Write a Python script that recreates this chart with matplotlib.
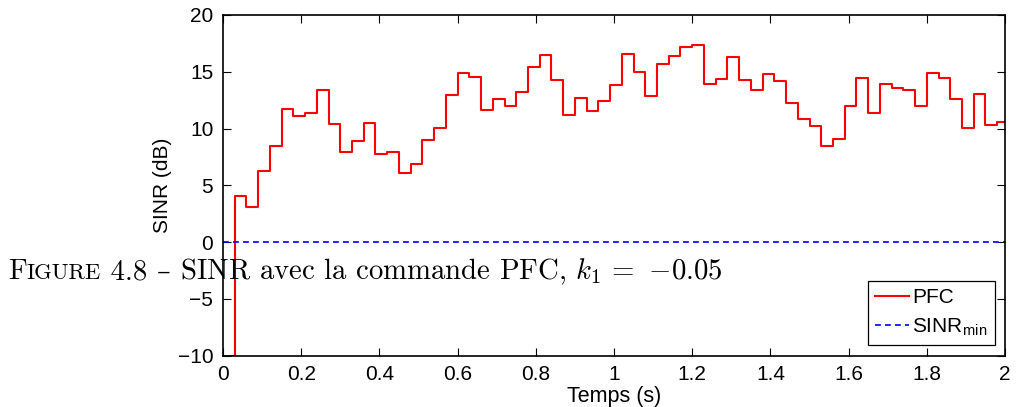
import numpy as np
import matplotlib
matplotlib.use("Agg")
import matplotlib.pyplot as plt
from matplotlib.offsetbox import TextArea, HPacker, AnchoredOffsetbox

# Data (step every 0.03 s)
dt = 0.03
sinr_pfc = [-10.0, 4.05, 3.08, 6.22, 8.5, 11.76, 11.06, 11.35, 13.43, 10.38,
            7.92, 8.92, 10.5, 7.77, 7.92, 6.07, 6.83, 8.97, 10.06, 12.96,
            14.9, 14.55, 11.67, 12.64, 12.0, 13.23, 15.43, 16.48, 14.28, 11.17,
            12.73, 11.58, 12.4, 13.84, 16.54, 14.99, 12.9, 15.72, 16.39, 17.18,
            17.33, 13.9, 14.37, 16.27, 14.25, 13.43, 14.84, 14.19, 12.26, 10.85,
            10.18, 8.48, 9.09, 12.0, 14.43, 11.38, 13.9, 13.6, 13.4, 12.02,
            14.93, 14.43, 12.61, 10.03, 13.08, 10.33, 10.59]
sinr_min = 0.0
xlim = [0, 2]
ylim = [-10, 20]
xticks = [0, 0.2, 0.4, 0.6, 0.8, 1, 1.2, 1.4, 1.6, 1.8, 2]
xticklabels = ["0", "0.2", "0.4", "0.6", "0.8", "1", "1.2", "1.4", "1.6", "1.8", "2"]
yticks = [-10, -5, 0, 5, 10, 15, 20]
yticklabels = ["\u221210", "\u22125", "0", "5", "10", "15", "20"]

t = np.arange(len(sinr_pfc)) * dt
t = np.append(t, xlim[1])
v = np.append(sinr_pfc, sinr_pfc[-1])

plt.rcParams['font.family'] = ['Liberation Sans', 'DejaVu Sans']
plt.rcParams['mathtext.fontset'] = 'cm'
fig = plt.figure(figsize=(10.24, 4.07), dpi=100)
ax = fig.add_axes([223/1024, 1 - 355.5/407, (1005-223)/1024, (355.5-15)/407])

ax.step(t, v, where='post', color='red', lw=1.5, label='PFC')
ax.plot(xlim, [sinr_min, sinr_min], color='blue', lw=1.2, ls=(0, (3.5, 2.5)),
        label='SINR$_{\\mathregular{min}}$')

ax.set_xlim(xlim)
ax.set_ylim(ylim)
ax.set_xticks(xticks)
ax.set_xticklabels(xticklabels)
ax.set_yticks(yticks)
ax.set_yticklabels(yticklabels)
ax.tick_params(direction='in', top=True, right=True, labelsize=15, length=6, width=0.8,
               pad=7)
for s in ax.spines.values():
    s.set_linewidth(1.2)
ax.set_xlabel('Temps (s)', fontsize=15.5, labelpad=1)
ax.set_ylabel('SINR (dB)', fontsize=15, labelpad=4)

leg = ax.legend(loc='lower right', fontsize=15, handlelength=1.6, handletextpad=0.15,
                borderpad=0.35, labelspacing=0.45, fancybox=False, framealpha=1,
                edgecolor='black', borderaxespad=0.5)
leg.get_frame().set_linewidth(0.9)

# Caption with small caps emulation
cap_font = ['cmr10', 'DejaVu Serif']
fs = 20.7
ta1 = TextArea("F", textprops=dict(fontsize=fs, family=cap_font))
ta2 = TextArea("IGURE", textprops=dict(fontsize=fs * 0.78, family=cap_font))
ta2a = TextArea(" 4.8 ", textprops=dict(fontsize=fs, family=cap_font))
ta2b = TextArea("\u2013", textprops=dict(fontsize=fs * 0.95, family=['DejaVu Serif']))
ta3 = TextArea(" SINR avec la commande PFC, $k_1\\,=$ $-0.05$",
               textprops=dict(fontsize=fs, family=cap_font))
box = HPacker(children=[ta1, ta2, ta2a, ta2b, ta3], align="baseline", pad=0, sep=0)
anch = AnchoredOffsetbox(loc='lower left', child=box, pad=0, frameon=False,
                         bbox_to_anchor=(8/1024, 1 - 287/407),
                         bbox_transform=fig.transFigure, borderpad=0)
fig.add_artist(anch)

fig.savefig('out.png', dpi=100)
